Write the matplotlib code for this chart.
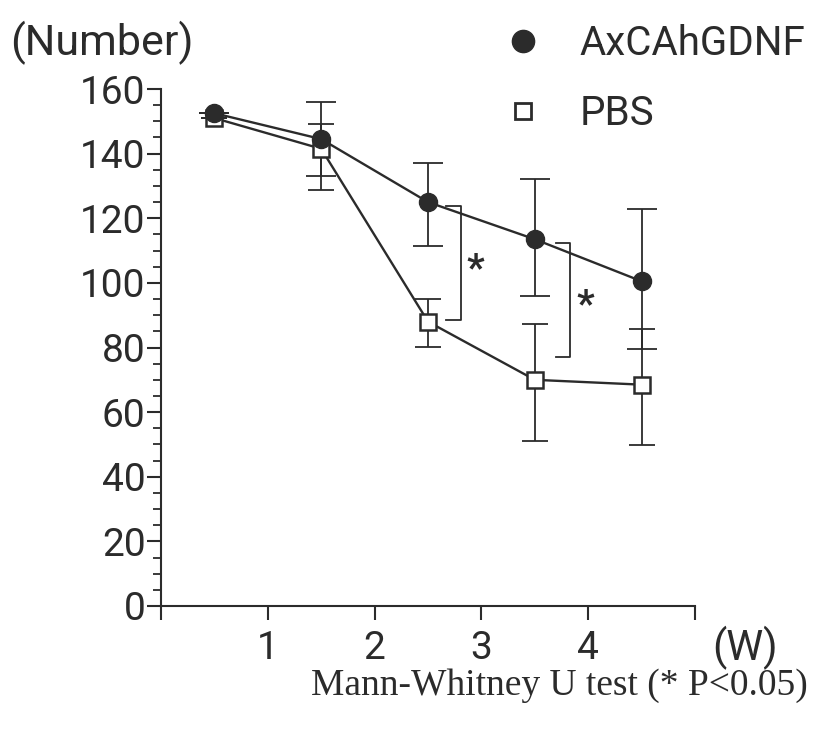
import matplotlib
matplotlib.use("Agg")
import matplotlib.pyplot as plt
from matplotlib.lines import Line2D
from matplotlib.ticker import MultipleLocator
import numpy as np

# ── Data ──────────────────────────────────────────────────────────────────────
weeks = [0.5, 1.5, 2.5, 3.5, 4.5]

gdnf_mean = [152.5, 144.5, 125.0, 113.5, 100.5]
gdnf_low = [152.5, 133.0, 111.5, 96.0, 79.5]
gdnf_high = [152.5, 156.0, 137.0, 132.0, 123.0]

pbs_mean = [151.0, 141.5, 88.0, 70.0, 68.5]
pbs_low = [151.0, 128.7, 80.2, 51.0, 49.8]
pbs_high = [151.0, 149.3, 95.0, 87.4, 85.6]

# significance brackets
bracket_x = [2.81, 3.83]
bracket_stub = [2.67, 3.70]
bracket_top = [123.7, 112.2]
bracket_bottom = [88.4, 77.1]
star_x = [2.94, 3.97]
star_y = [104.0, 93.0]

x_ticks = [0, 1, 2, 3, 4, 5]
x_ticklabels = ["", "1", "2", "3", "4", ""]

INK = "#2b2b2b"
SANS = ["Roboto", "DejaVu Sans"]

# ── Figure ────────────────────────────────────────────────────────────────────
fig = plt.figure(figsize=(8.19, 7.34), dpi=100)
fig.patch.set_facecolor("white")
ax = fig.add_axes([161 / 819, 128 / 734, 534 / 819, 517 / 734])

gm = np.array(gdnf_mean)
pm = np.array(pbs_mean)
ax.errorbar(weeks, gm, yerr=[gm - np.array(gdnf_low), np.array(gdnf_high) - gm],
            fmt="none", ecolor=INK, elinewidth=1.3, capsize=10.5, capthick=1.3, zorder=2)
ax.errorbar(weeks, pm, yerr=[pm - np.array(pbs_low), np.array(pbs_high) - pm],
            fmt="none", ecolor=INK, elinewidth=1.3, capsize=9.5, capthick=1.3, zorder=2)

ax.plot(weeks, gm, color=INK, lw=1.7, marker="o", ms=13,
        mfc=INK, mec=INK, zorder=4)
ax.plot(weeks, pm, color=INK, lw=1.7, marker="s", ms=12,
        mfc="white", mec=INK, mew=1.8, zorder=3)

for sx, bx, ty, by, ax_s, ay_s in zip(bracket_stub, bracket_x, bracket_top,
                                      bracket_bottom, star_x, star_y):
    ax.plot([sx, bx, bx, sx], [ty, ty, by, by], color=INK, lw=1.3, zorder=1)
    ax.text(ax_s, ay_s, "*", ha="center", va="center", fontsize=28,
            fontweight="bold", color=INK, family=SANS)

ax.set_xlim(0, 5)
ax.set_ylim(0, 160)
ax.set_xticks(x_ticks)
ax.set_xticklabels(x_ticklabels)
ax.yaxis.set_major_locator(MultipleLocator(20))
ax.yaxis.set_minor_locator(MultipleLocator(5))

for side in ["top", "right"]:
    ax.spines[side].set_visible(False)
for side in ["left", "bottom"]:
    ax.spines[side].set_linewidth(1.5)
    ax.spines[side].set_color(INK)

ax.tick_params(axis="x", which="major", direction="out", length=10, width=1.5,
               color=INK, labelsize=28, labelcolor=INK, pad=7)
ax.tick_params(axis="y", which="major", direction="out", length=10, width=1.5,
               color=INK, labelsize=28, labelcolor=INK, pad=1)
ax.tick_params(axis="y", which="minor", direction="out", length=5.5, width=1.3,
               color=INK)
for lbl in ax.get_xticklabels() + ax.get_yticklabels():
    lbl.set_family(SANS)

# ── Text ──────────────────────────────────────────────────────────────────────
fig.text(10 / 819, 1 - 43 / 734, "(Number)", ha="left", va="center",
         fontsize=31, color=INK, family=SANS)
fig.text(712 / 819, 1 - 648 / 734, "(W)", ha="left", va="center",
         fontsize=30, color=INK, family=SANS)
fig.text(808 / 819, 1 - 686 / 734, "Mann-Whitney U test (* P<0.05)",
         ha="right", va="center", fontsize=27, color=INK,
         family=["Liberation Serif", "DejaVu Serif"])

handles = [
    Line2D([], [], ls="none", marker="o", ms=16, mfc=INK, mec=INK),
    Line2D([], [], ls="none", marker="s", ms=11, mfc="white", mec=INK, mew=2.0),
]
leg = fig.legend(handles, ["AxCAhGDNF", "PBS"], loc="upper left",
                 bbox_to_anchor=(503 / 819, 1 - 24 / 734), frameon=False,
                 prop={"family": SANS, "size": 29}, handlelength=1.0,
                 handletextpad=0.91, labelspacing=0.78, borderpad=0,
                 borderaxespad=0)
for t in leg.get_texts():
    t.set_color(INK)

fig.savefig("out.png", dpi=100, facecolor="white")
